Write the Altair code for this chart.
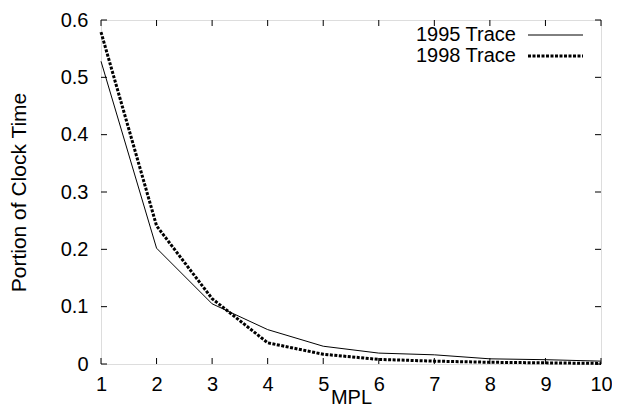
import altair as alt
import pandas as pd

# ---- data ----
mpl = [1, 2, 3, 4, 5, 6, 7, 8, 9, 10]
trace_1995 = [0.528, 0.202, 0.105, 0.060, 0.031, 0.019, 0.016, 0.009, 0.0075, 0.005]
trace_1998 = [0.579, 0.241, 0.114, 0.037, 0.017, 0.008, 0.005, 0.003, 0.002, 0.001]
x_ticks = [1, 2, 3, 4, 5, 6, 7, 8, 9, 10]
y_ticks = [0, 0.1, 0.2, 0.3, 0.4, 0.5, 0.6]
series_names = ["1995 Trace", "1998 Trace"]

W, H = 500, 344
FONT = "Liberation Sans"
FS = 20

df95 = pd.DataFrame({"MPL": mpl, "value": trace_1995})
df98 = pd.DataFrame({"MPL": mpl, "value": trace_1998})
xt = pd.DataFrame({"MPL": x_ticks})
yt = pd.DataFrame({"value": y_ticks})

xs = alt.Scale(domain=[1, 10], nice=False, zero=False)
ys = alt.Scale(domain=[0, 0.6], nice=False)

x_axis = alt.Axis(
    values=x_ticks, title="MPL", ticks=False, domain=False, grid=False,
    labelPadding=10, labelFontSize=FS, labelFlush=False, format="d",
    titleFontSize=FS, titleFontWeight="normal", titleY=39,
    titleBaseline="alphabetic", labelColor="black", titleColor="black",
)
y_axis = alt.Axis(
    values=y_ticks, title="Portion of Clock Time", ticks=False, domain=False,
    grid=False, labelPadding=13, labelFontSize=FS,
    labelExpr="datum.value == 0 ? '0' : format(datum.value, '.1f')",
    titleFontSize=21, titleFontWeight="normal", titleAngle=-90,
    titleX=-76, titleY=H / 2, titleBaseline="alphabetic", titleAlign="center",
    labelColor="black", titleColor="black",
)

X = alt.X("MPL:Q", scale=xs, axis=x_axis)
Y = alt.Y("value:Q", scale=ys, axis=y_axis)

line95 = alt.Chart(df95).mark_line(color="black", strokeWidth=1).encode(x=X, y=Y)
line98 = alt.Chart(df98).mark_line(
    color="black", strokeWidth=3, strokeDash=[3, 1.5], strokeCap="butt"
).encode(x=X, y=Y)

tick_style = dict(color="black", strokeWidth=1)
bottom_ticks = alt.Chart(xt).mark_rule(**tick_style).encode(
    x=X, y=alt.value(H), y2=alt.value(H - 6))
top_ticks = alt.Chart(xt).mark_rule(**tick_style).encode(
    x=X, y=alt.value(0), y2=alt.value(6))
left_ticks = alt.Chart(yt).mark_rule(**tick_style).encode(
    y=Y, x=alt.value(0), x2=alt.value(6))
right_ticks = alt.Chart(yt).mark_rule(**tick_style).encode(
    y=Y, x=alt.value(W), x2=alt.value(W - 6))

# legend (gnuplot style: label left, sample right)
leg_df = pd.DataFrame({"label": series_names})
leg_text1 = alt.Chart(leg_df.iloc[[0]]).mark_text(
    align="right", baseline="middle", fontSize=FS, font=FONT, color="black"
).encode(text="label:N", x=alt.value(415), y=alt.value(15))
leg_text2 = alt.Chart(leg_df.iloc[[1]]).mark_text(
    align="right", baseline="middle", fontSize=FS, font=FONT, color="black"
).encode(text="label:N", x=alt.value(415), y=alt.value(36))
leg_line1 = alt.Chart(leg_df.iloc[[0]]).mark_rule(color="black", strokeWidth=1).encode(
    x=alt.value(427), x2=alt.value(482), y=alt.value(15))
leg_line2 = alt.Chart(leg_df.iloc[[1]]).mark_rule(
    color="black", strokeWidth=3, strokeDash=[3, 1.5], strokeCap="butt"
).encode(x=alt.value(427), x2=alt.value(482), y=alt.value(36))

chart = alt.layer(
    bottom_ticks, top_ticks, left_ticks, right_ticks,
    line95, line98,
    leg_text1, leg_text2, leg_line1, leg_line2,
).properties(
    width=W, height=H,
    padding={"left": 93, "top": 12, "right": 11, "bottom": 43},
    autosize=alt.AutoSizeParams(type="none"),
).configure_view(
    stroke="black", strokeWidth=1.5
).configure(
    font=FONT
)

chart.save("out.html", embed_options={"renderer": "svg", "actions": False})
